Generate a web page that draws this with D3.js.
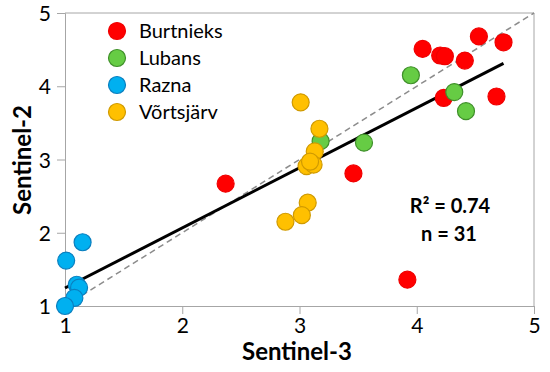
<!DOCTYPE html>
<html>
<head>
<meta charset="utf-8">
<script src="https://cdn.jsdelivr.net/npm/d3@7"></script>
<style>
  body { margin: 0; background: #fff; }
  text { font-family: Lato, "Open Sans", sans-serif; }
</style>
</head>
<body>
<div id="chart"></div>
<script>
// Lakes and their points (Sentinel-3 vs Sentinel-2)
const lakes = ["Burtnieks", "Lubans", "Razna", "Võrtsjärv"];
const burtnieks = [[4.05, 4.51], [4.20, 4.42], [4.24, 4.41], [4.41, 4.35], [4.53, 4.68], [4.74, 4.60],
                   [4.23, 3.84], [4.68, 3.86], [2.37, 2.67], [3.46, 2.81], [3.92, 1.36]];
const lubans = [[3.95, 4.15], [4.32, 3.92], [4.42, 3.66], [3.55, 3.23], [3.18, 3.25]];
const razna = [[1.15, 1.87], [1.01, 1.62], [1.10, 1.29], [1.12, 1.25], [1.08, 1.11], [1.00, 1.00]];
const vortsjarv = [[3.01, 3.78], [3.17, 3.42], [3.13, 3.11], [3.06, 2.91], [3.12, 2.93], [3.09, 2.97],
                   [3.07, 2.41], [3.02, 2.24], [2.88, 2.15]];
const ticks = [1, 2, 3, 4, 5];
const r2Label = "R² = 0.74";
const nLabel = "n = 31";

const series = [burtnieks, lubans, razna, vortsjarv];
const fills = ["#ff0000", "#66cc44", "#00b0f0", "#ffc000"];
const strokes = ["#f00000", "#3f8f2a", "#0a7fbf", "#d09a00"];

const width = 550, height = 372;
const margin = {top: 13, right: 16, bottom: 66, left: 65};

const svg = d3.select("#chart")
  .append("svg")
    .attr("width", width)
    .attr("height", height);

const x = d3.scaleLinear().domain([1, 5]).range([margin.left, width - margin.right]);
const y = d3.scaleLinear().domain([1, 5]).range([height - margin.bottom, margin.top]);

// frame (top and right)
svg.append("path")
    .attr("d", `M${x(1)},${y(5)}H${x(5)}V${y(1)}`)
    .attr("fill", "none")
    .attr("stroke", "#a6a6a6");

// axes
const xAxis = svg.append("g")
    .attr("transform", `translate(0,${y(1)})`)
    .call(d3.axisBottom(x).tickValues(ticks).tickFormat(d3.format("d")).tickSize(8).tickPadding(4));
const yAxis = svg.append("g")
    .attr("transform", `translate(${x(1)},0)`)
    .call(d3.axisLeft(y).tickValues(ticks).tickFormat(d3.format("d")).tickSize(8).tickPadding(6));
[xAxis, yAxis].forEach(g => {
  g.select(".domain").attr("stroke", "#a6a6a6");
  g.selectAll(".tick line").attr("stroke", "#a6a6a6");
  g.selectAll(".tick text").attr("fill", "#000").style("font-size", "21px")
    .style("font-family", "Lato, sans-serif");
});
yAxis.selectAll(".tick text").attr("dy", "0.36em");

// 1:1 line
svg.append("line")
    .attr("x1", x(1)).attr("y1", y(1))
    .attr("x2", x(5)).attr("y2", y(5))
    .attr("stroke", "#8c8c8c")
    .attr("stroke-width", 1.5)
    .attr("stroke-dasharray", "6,4");

// least squares fit over all points
const all = series.flat();
const mx = d3.mean(all, d => d[0]), my = d3.mean(all, d => d[1]);
const slope = d3.sum(all, d => (d[0] - mx) * (d[1] - my)) / d3.sum(all, d => (d[0] - mx) ** 2);
const intercept = my - slope * mx;
const [xmin, xmax] = d3.extent(all, d => d[0]);
svg.append("line")
    .attr("x1", x(xmin)).attr("y1", y(slope * xmin + intercept))
    .attr("x2", x(xmax)).attr("y2", y(slope * xmax + intercept))
    .attr("stroke", "#000")
    .attr("stroke-width", 3);

// points
series.forEach((pts, i) => {
  svg.append("g").selectAll("circle")
    .data(pts)
    .enter()
    .append("circle")
      .attr("cx", d => x(d[0]))
      .attr("cy", d => y(d[1]))
      .attr("r", 8.5)
      .attr("fill", fills[i])
      .attr("stroke", strokes[i])
      .attr("stroke-width", 1.2);
});

// legend
const legend = svg.append("g").attr("transform", "translate(117,31)");
legend.selectAll("circle")
  .data(lakes)
  .enter()
  .append("circle")
    .attr("cx", 0)
    .attr("cy", (d, i) => i * 27)
    .attr("r", 8.5)
    .attr("fill", (d, i) => fills[i])
    .attr("stroke", (d, i) => strokes[i])
    .attr("stroke-width", 1.2);
legend.selectAll("text")
  .data(lakes)
  .enter()
  .append("text")
    .attr("x", 22)
    .attr("y", (d, i) => i * 27 + 7)
    .style("font-size", "20px")
    .text(d => d);

// stats
svg.append("text")
    .attr("x", 450).attr("y", 213)
    .attr("text-anchor", "middle")
    .style("font-size", "20px").style("font-weight", "bold")
    .text(r2Label);
svg.append("text")
    .attr("x", 449).attr("y", 241)
    .attr("text-anchor", "middle")
    .style("font-size", "20px").style("font-weight", "bold")
    .text(nLabel);

// axis titles
svg.append("text")
    .attr("x", 297).attr("y", 360)
    .attr("text-anchor", "middle")
    .style("font-size", "24px").style("font-weight", "bold")
    .text("Sentinel-3");
svg.append("text")
    .attr("transform", "translate(31,160) rotate(-90)")
    .attr("text-anchor", "middle")
    .style("font-size", "24px").style("font-weight", "bold")
    .text("Sentinel-2");
</script>
</body>
</html>
